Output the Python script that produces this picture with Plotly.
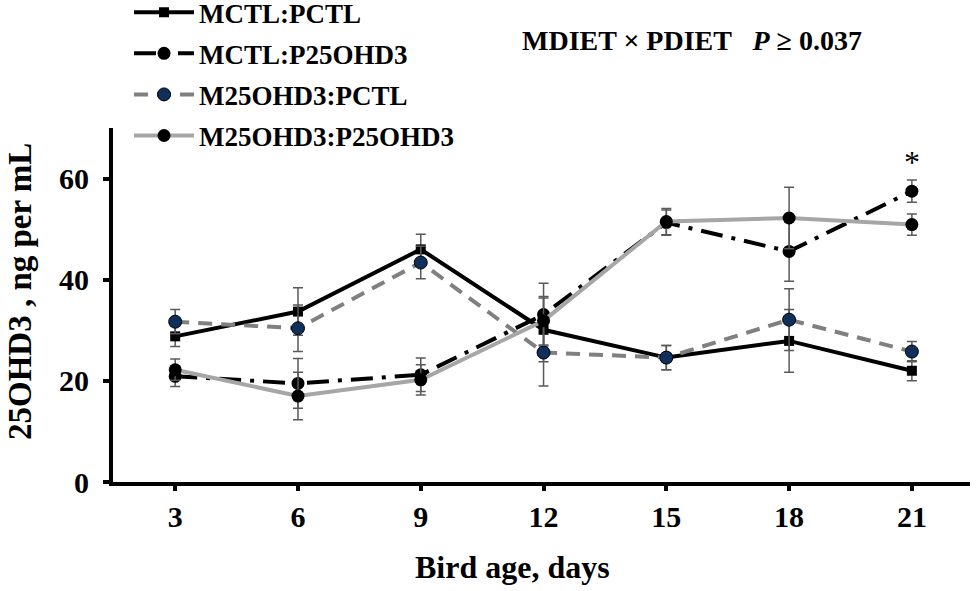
import plotly.graph_objects as go

# bird age (days) and 25OHD3 means / SE
days = [3, 6, 9, 12, 15, 18, 21]

mctl_pctl = [28.8, 33.7, 46.0, 30.1, 24.6, 27.9, 22.0]
mctl_pctl_se = [2.0, 4.7, 3.0, 6.3, 2.4, 6.2, 2.0]

mctl_p25 = [20.9, 19.5, 21.2, 33.1, 51.3, 45.6, 57.5]
mctl_p25_se = [2.0, 4.9, 3.3, 6.2, 2.5, 5.9, 2.2]

m25_pctl = [31.7, 30.4, 43.4, 25.6, 24.6, 32.1, 25.8]
m25_pctl_se = [2.4, 4.6, 3.2, 6.6, 2.4, 6.1, 2.0]

m25_p25 = [22.2, 17.0, 20.2, 31.9, 51.5, 52.2, 50.9]
m25_p25_se = [2.1, 4.7, 3.0, 4.8, 2.6, 6.1, 2.1]

FONT = "Liberation Serif"
err_col = "#595959"


def err(se):
    return dict(type="data", array=se, visible=True, color=err_col, thickness=1.5, width=5)


fig = go.Figure()

fig.add_trace(go.Scatter(
    x=days, y=mctl_pctl, name="MCTL:PCTL", mode="lines+markers",
    line=dict(color="black", width=4),
    marker=dict(symbol="square", size=10, color="black"),
    error_y=err(mctl_pctl_se), legendgroup="a"))

fig.add_trace(go.Scatter(
    x=days, y=mctl_p25, name="MCTL:P25OHD3", mode="lines+markers",
    line=dict(color="black", width=4, dash="22px,9px,4px,9px"),
    marker=dict(symbol="circle", size=13, color="black"),
    error_y=err(mctl_p25_se), legendgroup="b"))

fig.add_trace(go.Scatter(
    x=days, y=m25_pctl, name="M25OHD3:PCTL", mode="lines+markers",
    line=dict(color="#808080", width=4, dash="14px,9px"),
    marker=dict(symbol="circle", size=13, color="#10305c", line=dict(color="black", width=1)),
    error_y=err(m25_pctl_se), legendgroup="c"))

fig.add_trace(go.Scatter(
    x=days, y=m25_p25, name="M25OHD3:P25OHD3", mode="lines+markers",
    line=dict(color="#a6a6a6", width=4),
    marker=dict(symbol="circle", size=13, color="black"),
    error_y=err(m25_p25_se), legendgroup="d"))

# significance mark on day 21
fig.add_annotation(x=21, y=63.2, text="*", showarrow=False,
                   font=dict(family=FONT, size=32, color="black"))

fig.add_annotation(xref="paper", yref="paper", x=0.6756, y=1.2458,
                   xanchor="center", yanchor="middle",
                   text="<b>MDIET × PDIET   <i>P</i> ≥ 0.037</b>", showarrow=False,
                   font=dict(family=FONT, size=28, color="black"))

# axis titles
fig.add_annotation(xref="paper", yref="paper", x=0.4667, y=-0.240,
                   xanchor="center", yanchor="middle",
                   text="<b>Bird age, days</b>", showarrow=False,
                   font=dict(family=FONT, size=32, color="black"))
fig.add_annotation(xref="paper", yref="paper", x=-0.1085, y=0.5367,
                   xanchor="center", yanchor="middle", textangle=-90,
                   text="<b>25OHD3 , ng per mL</b>", showarrow=False,
                   font=dict(family=FONT, size=33, color="black"))

fig.update_layout(
    width=976, height=591,
    margin=dict(l=113, r=6, t=128, b=109, autoexpand=False),
    plot_bgcolor="white", paper_bgcolor="white",
    font=dict(family=FONT, color="black"),
    legend=dict(x=0.0187, y=1.395, xanchor="left", yanchor="top",
                font=dict(family=FONT, size=27, color="black", weight="bold"),
                itemwidth=60, traceorder="grouped", tracegroupgap=3,
                bgcolor="rgba(0,0,0,0)"),
    xaxis=dict(range=[1.48, 22.42], tickvals=days, showline=True, linecolor="black",
               linewidth=4, ticks="outside", ticklen=5, tickwidth=4, tickcolor="black",
               showgrid=False, zeroline=False,
               tickfont=dict(family=FONT, size=30, weight="bold")),
    yaxis=dict(range=[0, 70], tickvals=[0, 20, 40, 60], showline=True, linecolor="black",
               linewidth=4, ticks="outside", ticklen=6, tickwidth=4, tickcolor="black",
               showgrid=False, zeroline=False, ticklabelstandoff=8,
               tickfont=dict(family=FONT, size=30, weight="bold")),
)

# page body margin off so the figure fills the window exactly
fig.write_html("out.html", config={"displayModeBar": False},
               post_script="document.body.style.margin='0';")
